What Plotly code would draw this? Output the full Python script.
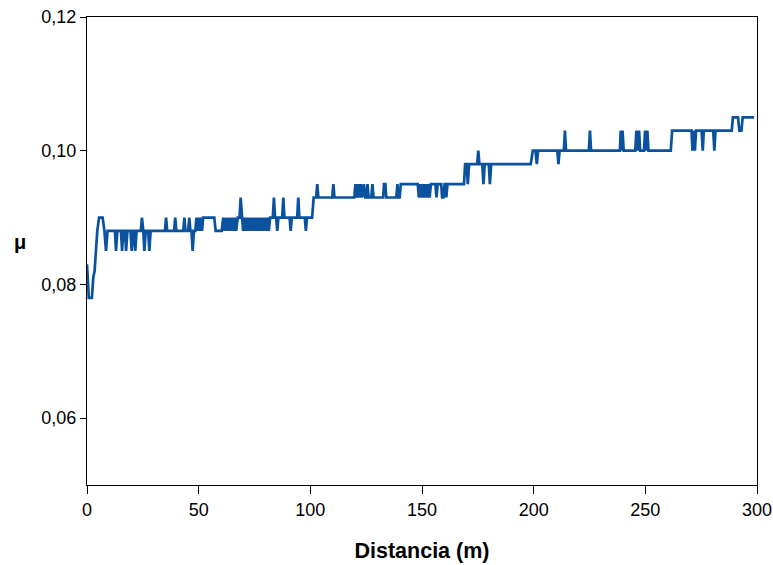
import plotly.graph_objects as go

# Friction coefficient profile along the measured distance (vertices of the trace)
dist_a = [0.0, 0.8, 2.2, 2.8, 3.4, 4.6, 5.4, 7.0,
          7.8, 8.5, 9.2, 12.5, 13.0, 13.6, 15.2, 15.7,
          16.3, 17.0, 17.5, 18.1, 19.5, 20.0, 20.6, 21.0,
          21.6, 22.2, 24.1, 24.6, 25.2, 25.7, 26.3, 27.4,
          27.9, 28.5, 34.9, 35.4, 35.9, 39.0, 39.5, 40.0,
          43.1, 43.6, 44.1, 45.3, 45.8, 46.3, 46.8, 47.3,
          47.9, 48.5, 49.0, 49.5, 50.0, 50.5, 51.0, 51.5,
          52.0, 57.0, 57.6]
mu_a = [0.083, 0.078, 0.078, 0.081, 0.082, 0.088, 0.090, 0.090,
        0.088, 0.085, 0.088, 0.088, 0.085, 0.088, 0.088, 0.085,
        0.088, 0.088, 0.085, 0.088, 0.088, 0.085, 0.088, 0.088,
        0.085, 0.088, 0.088, 0.090, 0.088, 0.085, 0.088, 0.088,
        0.085, 0.088, 0.088, 0.090, 0.088, 0.088, 0.090, 0.088,
        0.088, 0.090, 0.088, 0.088, 0.090, 0.088, 0.088, 0.085,
        0.088, 0.088, 0.090, 0.088, 0.090, 0.088, 0.090, 0.088,
        0.090, 0.090, 0.088]

dist_b = [60.3, 61.0, 61.6, 62.3, 62.9, 63.6, 64.2, 64.9,
          65.5, 66.2, 66.8, 67.5, 68.3, 68.8, 69.3, 69.9,
          70.5, 71.1, 71.7, 72.3, 73.0, 73.6, 74.3, 74.9,
          75.6, 76.2, 76.9, 77.5, 78.2, 78.8, 79.5, 80.1,
          80.8, 81.4, 82.0, 83.2, 83.7, 84.2, 84.7, 85.2,
          85.7, 87.4, 87.9, 88.4, 90.7, 91.2, 91.7, 94.1,
          94.6, 95.1, 97.5, 98.0, 98.5, 100.8, 101.5, 102.6,
          103.1, 103.6]
mu_b = [0.088, 0.090, 0.088, 0.090, 0.088, 0.090, 0.088, 0.090,
        0.088, 0.090, 0.088, 0.090, 0.090, 0.093, 0.090, 0.088,
        0.090, 0.088, 0.090, 0.088, 0.090, 0.088, 0.090, 0.088,
        0.090, 0.088, 0.090, 0.088, 0.090, 0.088, 0.090, 0.088,
        0.090, 0.088, 0.090, 0.090, 0.093, 0.090, 0.090, 0.088,
        0.090, 0.090, 0.093, 0.090, 0.090, 0.088, 0.090, 0.090,
        0.093, 0.090, 0.090, 0.088, 0.090, 0.090, 0.093, 0.093,
        0.095, 0.093]

dist_c = [109.8, 110.3, 110.8, 119.7, 120.2, 120.8, 121.4, 122.0,
          122.6, 123.2, 124.0, 124.6, 125.1, 125.6, 126.1, 127.3,
          127.8, 128.3, 132.6, 133.0, 133.6, 134.0, 138.5, 139.0,
          139.5, 140.0, 140.5, 148.1, 148.6, 149.2, 149.8, 150.4,
          151.0, 151.6, 152.2, 152.8, 153.4, 154.0, 156.0, 156.5,
          157.0, 158.6, 159.0, 159.6, 160.1, 160.4, 160.9, 161.4,
          168.8, 169.3]
mu_c = [0.093, 0.095, 0.093, 0.093, 0.095, 0.093, 0.095, 0.093,
        0.095, 0.093, 0.095, 0.093, 0.093, 0.095, 0.093, 0.093,
        0.095, 0.093, 0.093, 0.095, 0.095, 0.093, 0.093, 0.095,
        0.093, 0.093, 0.095, 0.095, 0.093, 0.095, 0.093, 0.095,
        0.093, 0.095, 0.093, 0.095, 0.093, 0.095, 0.095, 0.093,
        0.095, 0.095, 0.093, 0.093, 0.095, 0.095, 0.093, 0.095,
        0.095, 0.098]

dist_d = [170.0, 170.5, 171.1, 174.7, 175.2, 175.7, 177.0, 177.5,
          178.1, 179.9, 180.4, 181.0, 198.7, 199.6, 200.8, 201.4,
          202.0]
mu_d = [0.098, 0.095, 0.098, 0.098, 0.100, 0.098, 0.098, 0.095,
        0.098, 0.098, 0.095, 0.098, 0.098, 0.100, 0.100, 0.098,
        0.100]

dist_e = [210.6, 211.1, 211.6, 213.5, 214.0, 214.5, 224.7, 225.2,
          225.7, 238.6, 239.0, 239.4, 239.8, 240.3, 245.5, 246.0,
          246.5, 247.2, 247.7, 249.4, 249.9, 250.4, 250.9, 251.4,
          261.4, 262.0]
mu_e = [0.100, 0.098, 0.100, 0.100, 0.103, 0.100, 0.100, 0.103,
        0.100, 0.100, 0.103, 0.100, 0.103, 0.100, 0.100, 0.103,
        0.100, 0.103, 0.100, 0.100, 0.103, 0.100, 0.103, 0.100,
        0.100, 0.103]

dist_f = [270.7, 271.1, 271.6, 272.2, 272.7, 275.2, 275.7, 276.2,
          280.4, 280.9, 281.4, 288.7, 289.2, 291.5, 292.1, 293.0,
          293.6, 298.7]
mu_f = [0.103, 0.100, 0.103, 0.100, 0.103, 0.103, 0.100, 0.103,
        0.103, 0.100, 0.103, 0.103, 0.105, 0.105, 0.103, 0.103,
        0.105, 0.105]

x_ticks = [0, 50, 100, 150, 200, 250, 300]
y_ticks = [0.06, 0.08, 0.10, 0.12]

distancia = dist_a + dist_b + dist_c + dist_d + dist_e + dist_f
mu = mu_a + mu_b + mu_c + mu_d + mu_e + mu_f
assert len(distancia) == len(mu)

FONT = "Liberation Sans, Arial, sans-serif"

fig = go.Figure(
    go.Scatter(
        x=distancia, y=mu, mode="lines",
        line=dict(color="#0A52A0", width=2.7),
        hoverinfo="x+y", showlegend=False,
    )
)

# plot area spans x 87..757 px and y 17..485 px
fig.update_layout(
    width=773, height=565,
    margin=dict(l=87, r=16, t=17, b=80, autoexpand=False),
    paper_bgcolor="white", plot_bgcolor="white",
    separators=", ",
    font=dict(family=FONT, size=18, color="black"),
    annotations=[dict(
        text="<b>μ</b>", xref="paper", yref="paper",
        x=(20 - 87) / 670, y=(485 - 242) / 468,
        xanchor="center", yanchor="middle", showarrow=False,
        font=dict(family=FONT, size=20, color="black"),
    )],
)

fig.update_xaxes(
    range=[0, 300], tickvals=x_ticks, automargin=False,
    showline=True, linecolor="black", linewidth=1, mirror=True,
    ticks="outside", ticklen=8, tickcolor="black",
    showgrid=False, zeroline=False,
    title=dict(text="<b>Distancia (m)</b>", font=dict(family=FONT, size=21.5), standoff=24),
)
fig.update_yaxes(
    range=[0.05, 0.12], tickvals=y_ticks, tickformat=".2f", automargin=False,
    showline=True, linecolor="black", linewidth=1, mirror=True,
    ticks="outside", ticklen=6, tickcolor="black",
    showgrid=False, zeroline=False,
)

fig.write_html("out.html")
